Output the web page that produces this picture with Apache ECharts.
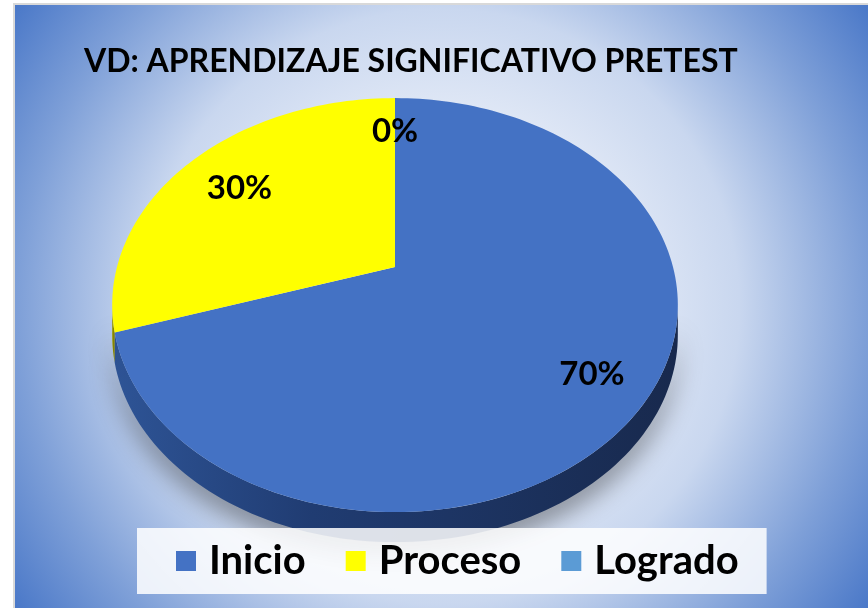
<!DOCTYPE html>
<html>
<head>
<meta charset="utf-8">
<script src="https://cdn.jsdelivr.net/npm/echarts@6/dist/echarts.min.js"></script>
<style>
  html, body { margin: 0; padding: 0; background: #fff; }
  .frame {
    position: absolute; left: 13px; top: 3px; width: 855px; height: 605px;
    background: #d9d9d9;
  }
  .bg {
    position: absolute; left: 15px; top: 5px; width: 853px; height: 603px;
    background: radial-gradient(circle farthest-corner at 50% 50%,
      #ffffff 0%, #eef2fa 25%, #c9d7ef 57%, #7fa0d8 81%, #4a78c8 100%);
  }
  #chart { position: absolute; left: 0; top: 0; width: 868px; height: 608px; }
</style>
</head>
<body>
<div class="frame"></div>
<div class="bg"></div>
<div id="chart"></div>
<script>
const categories = ['Inicio', 'Proceso', 'Logrado'];
const values = [70, 30, 0];

const topColors = ['#4472C4', '#FFFF00', '#5B9BD5'];
const sideColors = [
  ['#2e5496', '#203c72', '#18294d'],
  ['#9a9a00', '#8a8a00', '#7a7a00'],
  ['#3f6f9e', '#345d85', '#2a4b6c']
];

// 3D pie projection (Excel-like tilted pie with a bit of perspective)
const CX = 395, CY = 267;
const SX = 278, SY = 200, K = 0.184, DEPTH = 30;
const VIS_FROM = 100.6, VIS_TO = 259.4;

const total = values.reduce((a, b) => a + b, 0);

function proj(deg, r) {
  const t = deg * Math.PI / 180;
  const X = r * Math.sin(t), Z = r * Math.cos(t);
  const w = 1 + K * Z;
  return [CX + SX * X / w, CY - SY * Z / w];
}

function arcPoints(a, b, dy) {
  const pts = [];
  const n = Math.max(2, Math.ceil(Math.abs(b - a) / 1.5));
  for (let j = 0; j <= n; j++) {
    const p = proj(a + (b - a) * j / n, 1);
    pts.push([p[0], p[1] + dy]);
  }
  return pts;
}

function toPath(pts) {
  return 'M' + pts.map(p => p[0].toFixed(2) + ' ' + p[1].toFixed(2)).join(' L') + ' Z';
}

function renderItem(params, api) {
  const i = params.dataIndex;
  const v = api.value(0);
  let before = 0;
  for (let j = 0; j < i; j++) before += values[j];
  const start = before / total * 360;
  const end = start + v / total * 360;
  const children = [];

  if (v > 0) {
    // side wall (front part only)
    const a = Math.max(start, VIS_FROM), b = Math.min(end, VIS_TO);
    if (b > a) {
      const topArc = arcPoints(a, b, 0);
      const botArc = arcPoints(b, a, DEPTH);
      children.push({
        type: 'path',
        z2: 1,
        shape: { pathData: toPath(topArc.concat(botArc)) },
        style: {
          fill: new echarts.graphic.LinearGradient(0, 0, 1, 0, [
            { offset: 0, color: sideColors[i][0] },
            { offset: 0.35, color: sideColors[i][1] },
            { offset: 1, color: sideColors[i][2] }
          ]),
          shadowColor: 'rgba(0,0,0,0.4)',
          shadowBlur: 24,
          shadowOffsetY: 12
        }
      });
    }
    // top face
    const face = [[CX, CY]].concat(arcPoints(start, end, 0));
    children.push({
      type: 'path',
      z2: 10,
      shape: { pathData: toPath(face) },
      style: { fill: topColors[i] }
    });
  }

  // data label
  const mid = (start + end) / 2;
  const lp = proj(mid, 0.8);
  children.push({
    type: 'text',
    z2: 20,
    x: lp[0] + (i === 1 ? 10 : 0),
    y: lp[1] + (i === 1 ? 8 : 4),
    style: {
      text: Math.round(v / total * 100) + '%',
      fill: '#000',
      font: 'bold 33px Lato, sans-serif',
      align: 'center',
      verticalAlign: 'middle'
    }
  });

  return { type: 'group', children: children };
}

const chart = echarts.init(document.getElementById('chart'));

chart.setOption({
  animation: false,
  title: {
    text: 'VD: APRENDIZAJE SIGNIFICATIVO PRETEST',
    left: 84,
    top: 46,
    padding: 0,
    textStyle: {
      fontFamily: 'Lato, sans-serif',
      fontWeight: 'bold',
      fontSize: 32,
      color: '#000'
    }
  },
  legend: {
    data: categories,
    left: 137,
    top: 528,
    icon: 'rect',
    itemWidth: 20,
    itemHeight: 20,
    itemGap: 40,
    padding: [13, 28, 13, 39],
    backgroundColor: 'rgba(255,255,255,0.85)',
    selectedMode: false,
    textStyle: {
      fontFamily: 'Lato, sans-serif',
      fontWeight: 'bold',
      fontSize: 40,
      color: '#000',
      padding: [0, 0, 0, 8]
    }
  },
  series: [
    {
      type: 'custom',
      coordinateSystem: 'none',
      renderItem: renderItem,
      data: values.map(v => [v]),
      silent: true
    },
    {
      // legend carrier only
      type: 'pie',
      radius: [0, 0],
      center: [CX, CY],
      label: { show: false },
      labelLine: { show: false },
      silent: true,
      data: categories.map((c, i) => ({
        name: c,
        value: values[i],
        itemStyle: { color: topColors[i] }
      }))
    }
  ]
});

window.addEventListener('resize', () => chart.resize());
</script>
</body>
</html>
